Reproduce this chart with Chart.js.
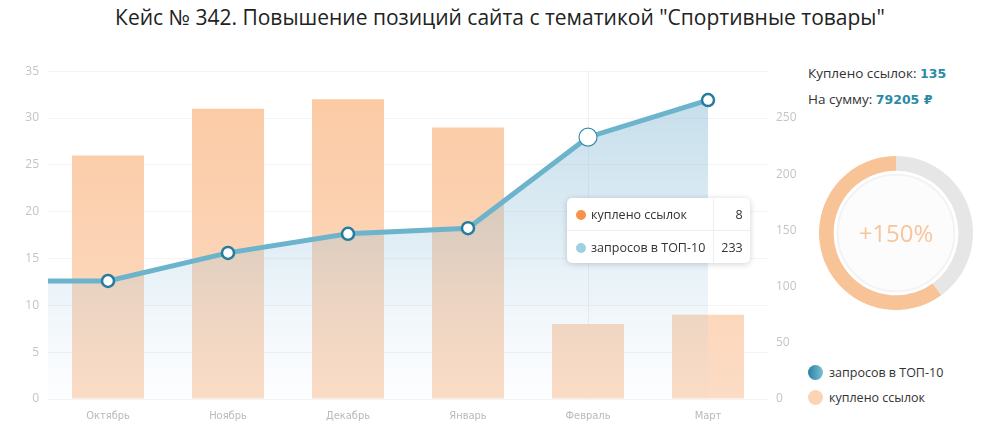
<!DOCTYPE html>
<html>
<head>
<meta charset="utf-8">
<script src="https://cdn.jsdelivr.net/npm/chart.js@4/dist/chart.umd.min.js"></script>
<style>
  body { margin: 0; background: #fff; font-family: "Open Sans", sans-serif; }
  #wrap { position: relative; width: 1000px; height: 432px; overflow: hidden; }
  h1 { position: absolute; top: 3px; left: 0; width: 1000px; margin: 0; text-align: center;
       font-size: 21px; font-weight: normal; color: #222; }
  #main { position: absolute; left: 0; top: 55px; }
  #donutBox { position: absolute; left: 819px; top: 156px; }
  #donutText { position: absolute; left: 819px; top: 156px; width: 154px; height: 154px; line-height: 154px;
       text-align: center; font-size: 24px; color: #f7c59b; pointer-events: none; }
  .info { position: absolute; left: 808px; font-size: 13.5px; color: #333; }
  .info b { color: #2b8aa6; font-family: "DejaVu Sans", sans-serif; font-size: 12.5px; }
  .leg { position: absolute; left: 808px; font-size: 12.5px; color: #333; }
  .leg i { display: inline-block; width: 15px; height: 15px; border-radius: 50%; vertical-align: -3px; margin-right: 6px; }
  #tip { position: absolute; background: #fff; border-radius: 5px; box-shadow: 0 1px 6px rgba(0,0,0,0.18);
         font-size: 12.5px; color: #333; display: none; }
  #tip table { border-collapse: collapse; }
  #tip td { padding: 0 8px 0 9px; height: 32px; }
  #tip tr + tr td { border-top: 1px solid #eee; }
  #tip td.v { text-align: right; border-left: 1px solid #eee; padding: 0 7px 0 7px; }
  #tip i { display: inline-block; width: 10px; height: 10px; border-radius: 50%; margin-right: 5px; vertical-align: -1px; }
</style>
</head>
<body>
<div id="wrap">
  <h1>Кейс № 342. Повышение позиций сайта с тематикой "Спортивные товары"</h1>
  <canvas id="main" width="800" height="377"></canvas>
  <div class="info" style="top:64px">Куплено ссылок: <b>135</b></div>
  <div class="info" style="top:90px">На сумму: <b>79205 ₽</b></div>
  <canvas id="donutBox" width="154" height="154"></canvas>
  <div id="donutText">+150%</div>
  <div class="leg" style="top:364px"><i style="background:linear-gradient(90deg,#2a7fa0,#7cc0d8)"></i>запросов в ТОП-10</div>
  <div class="leg" style="top:389px"><i style="background:#fcd3b3"></i>куплено ссылок</div>
  <div id="tip"></div>
</div>
<script>
const months = ["Октябрь", "Ноябрь", "Декабрь", "Январь", "Февраль", "Март"];
const linksBought = [26, 31, 32, 29, 8, 9];
const topQueries = [105, 130, 147, 152, 233, 266];
const donutValues = [40, 60];

const barLabel = "куплено ссылок";
const lineLabel = "запросов в ТОП-10";

// one linear x axis: month i sits at x = i, the line also starts at the left edge
const barPoints = linksBought.map((v, i) => ({ x: i, y: v }));
const linePoints = [{ x: -0.5, y: topQueries[0] }].concat(
  topQueries.map((v, i) => ({ x: i, y: v }))
);
const pointSizes = linePoints.map((p, i) => (i === 0 ? 0 : 6));

function vGrad(ctx, area, stops) {
  const g = ctx.createLinearGradient(0, area.top, 0, area.bottom);
  stops.forEach(s => g.addColorStop(s[0], s[1]));
  return g;
}

const crosshair = {
  id: "crosshair",
  beforeDatasetsDraw(chart) {
    const act = chart.tooltip.getActiveElements();
    if (!act.length) return;
    const x = act[0].element.x;
    const c = chart.ctx;
    c.save();
    c.strokeStyle = "#eef0f2";
    c.lineWidth = 1;
    c.beginPath();
    c.moveTo(x + 0.5, chart.chartArea.top);
    c.lineTo(x + 0.5, chart.chartArea.bottom);
    c.stroke();
    c.restore();
  }
};

function externalTip(context) {
  const tip = document.getElementById("tip");
  const t = context.tooltip;
  if (t.opacity === 0) { tip.style.display = "none"; return; }
  const dots = ["#f7924a", "#9fd0e0"];
  let html = "<table>";
  t.dataPoints.forEach((dp, i) => {
    html += '<tr><td><i style="background:' + dots[i] + '"></i>' + dp.dataset.label +
            '</td><td class="v">' + dp.parsed.y + "</td></tr>";
  });
  html += "</table>";
  tip.innerHTML = html;
  tip.style.display = "block";
  const cv = context.chart.canvas;
  tip.style.left = (cv.offsetLeft + t.caretX - 21) + "px";
  tip.style.top = (cv.offsetTop + t.caretY - tip.offsetHeight / 2) + "px";
}

const chart = new Chart(document.getElementById("main"), {
  type: "bar",
  data: {
    datasets: [
      {
        type: "bar",
        label: barLabel,
        data: barPoints,
        yAxisID: "y",
        order: 2,
        categoryPercentage: 1,
        barPercentage: 0.6,
        backgroundColor: ctx => {
          const a = ctx.chart.chartArea;
          if (!a) return "#f9c9a0";
          return vGrad(ctx.chart.ctx, a, [[0, "#fbc9a2"], [1, "#fcdcc5"]]);
        }
      },
      {
        type: "line",
        label: lineLabel,
        data: linePoints,
        yAxisID: "y1",
        order: 1,
        borderColor: "#6cb3cc",
        borderWidth: 5,
        tension: 0,
        fill: "origin",
        backgroundColor: ctx => {
          const a = ctx.chart.chartArea;
          if (!a) return "rgba(120,180,210,0.3)";
          return vGrad(ctx.chart.ctx, a, [[0, "rgba(140,190,215,0.55)"], [0.5, "rgba(150,195,220,0.3)"], [1, "rgba(190,215,235,0.03)"]]);
        },
        pointRadius: pointSizes,
        pointBackgroundColor: "#fff",
        pointBorderColor: "#267c9c",
        pointBorderWidth: 2.5,
        pointHoverRadius: 9,
        pointHoverBorderWidth: 1.2,
        pointHoverBorderColor: "#3d8fae",
        pointHoverBackgroundColor: "#fff"
      }
    ]
  },
  options: {
    responsive: false,
    animation: false,
    events: [],
    layout: { padding: { top: 16, bottom: 5 } },
    plugins: {
      legend: { display: false },
      title: { display: false },
      tooltip: { enabled: false, mode: "nearest", external: externalTip }
    },
    scales: {
      x: {
        type: "linear",
        position: "bottom",
        offset: false,
        min: -0.5,
        max: 5.5,
        afterBuildTicks: s => { s.ticks = months.map((m, i) => ({ value: i })); },
        grid: { display: false },
        border: { display: false },
        ticks: {
          color: "#b9b9b9",
          font: { family: "'DejaVu Sans Condensed', 'Liberation Sans', sans-serif", size: 11 },
          padding: 3,
          maxRotation: 0,
          autoSkip: false,
          callback: v => months[v]
        },
        afterFit: s => { s.height = 28; }
      },
      y: {
        position: "left",
        min: 0,
        max: 35,
        ticks: { stepSize: 5, color: "#c4c4c4", font: { family: "Open Sans", size: 12 }, padding: 9 },
        grid: { color: "#f3f3f3", drawTicks: false },
        border: { display: false },
        afterFit: s => { s.width = 48; }
      },
      y1: {
        position: "right",
        min: 0,
        max: 35 * 250 / 30,
        ticks: { stepSize: 50, color: "#c4c4c4", font: { family: "Open Sans", size: 12 }, padding: 8 },
        afterBuildTicks: s => { s.ticks = s.ticks.filter(t => t.value % 50 === 0); },
        grid: { display: false, drawTicks: false },
        border: { display: false },
        afterFit: s => { s.width = 32; }
      }
    }
  },
  plugins: [crosshair]
});

const active = [{ datasetIndex: 0, index: 4 }, { datasetIndex: 1, index: 5 }];
chart.setActiveElements(active);
chart.tooltip.setActiveElements(active, { x: 588, y: 230 });
chart.update();

new Chart(document.getElementById("donutBox"), {
  type: "doughnut",
  data: {
    labels: ["rest", "gain"],
    datasets: [{
      data: donutValues,
      backgroundColor: ["#e6e6e6", "#f9c398"],
      borderWidth: 0
    }]
  },
  options: {
    responsive: false,
    animation: false,
    events: [],
    cutout: "81%",
    plugins: { legend: { display: false }, tooltip: { enabled: false } }
  },
  plugins: [{
    id: "innerDisc",
    beforeDatasetsDraw(c) {
      const m = c.getDatasetMeta(0).data[0];
      const g = c.ctx;
      g.save();
      g.fillStyle = "#fcfcfc";
      g.strokeStyle = "#f3f3f3";
      g.lineWidth = 2;
      g.beginPath();
      g.arc(m.x, m.y, m.innerRadius - 4, 0, Math.PI * 2);
      g.fill();
      g.stroke();
      g.restore();
    }
  }]
});
</script>
</body>
</html>
